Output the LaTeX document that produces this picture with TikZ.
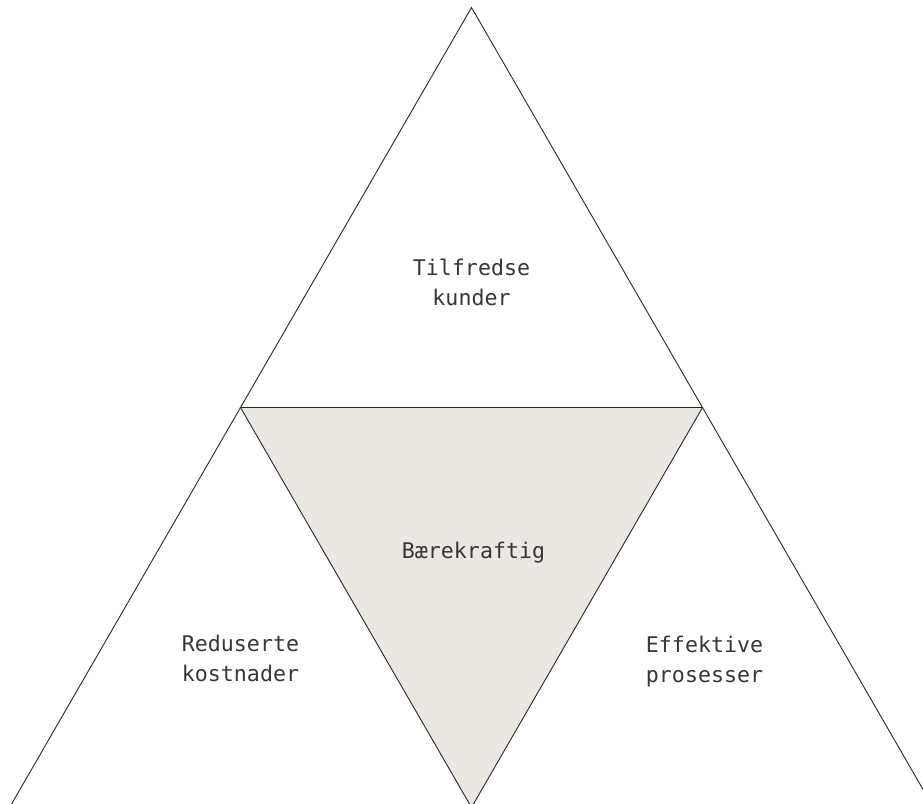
\documentclass[tikz,border=0pt]{standalone}
\usepackage{fontspec}
\newfontfamily\labelfont{DejaVu Sans Mono}
\definecolor{fillgrey}{RGB}{235,232,227}
\definecolor{inkgrey}{RGB}{40,40,40}
\definecolor{textgrey}{RGB}{55,55,55}
\begin{document}
\begin{tikzpicture}[x=1pt,y=-1pt,
  edge/.style={draw=inkgrey,line width=0.9pt,line join=miter},
  lbl/.style={align=center,text=textgrey,inner sep=0pt,
    font=\labelfont\fontsize{21.6}{30}\selectfont}]
\useasboundingbox (0,0) rectangle (923,803);
\clip (0,0) rectangle (923,803);
\coordinate (apex) at (471.5,7.5);
\coordinate (bl) at (9.6,807.4);
\coordinate (br) at (933.4,807.4);
\coordinate (ml) at (240.5,407.5);
\coordinate (mr) at (702.5,407.5);
\coordinate (mb) at (471.5,807.4);
\fill[fillgrey] (ml) -- (mr) -- (mb) -- cycle;
\draw[edge] (bl) -- (apex) -- (br);
\draw[edge] (ml) -- (mr) -- (mb) -- cycle;
\node[lbl] (top) at (471.5,282) {Tilfredse\\kunder};
\node[lbl] (mid) at (473.5,553) {Bærekraftig};
\node[lbl] (left) at (240.5,658) {Reduserte\\kostnader};
\node[lbl] (right) at (704.5,662) {Effektive\\prosesser};
\end{tikzpicture}
\end{document}
